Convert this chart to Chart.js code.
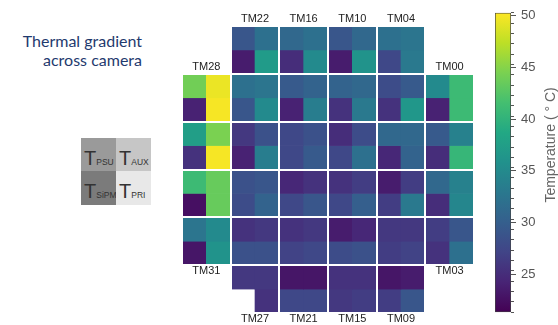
<!DOCTYPE html>
<html>
<head>
<meta charset="utf-8">
<script src="https://cdn.jsdelivr.net/npm/chart.js@4.4.1/dist/chart.umd.min.js"></script>
<style>
  body { margin: 0; width: 558px; height: 325px; overflow: hidden; background: #fff; position: relative; font-family: "Liberation Sans", Arial, sans-serif; }
  #heat { position: absolute; left: 170px; top: 0; }
  #cbar { position: absolute; left: 480px; top: 0; }
  #caption { position: absolute; right: 416px; top: 31px; text-align: right; color: #1f3a6e; font: 16px Lato, "Open Sans", sans-serif; line-height: 19px; }
  #key { position: absolute; left: 81px; top: 138px; width: 70px; height: 67px; display: grid; grid-template-columns: 35px 35px; grid-template-rows: 33px 34px; }
  #key div { color: #333; padding: 10px 0 0 3px; box-sizing: border-box; font-size: 20px; line-height: 20px; white-space: nowrap; }
  #key span { font-size: 8.5px; }
</style>
</head>
<body>
<div id="caption">Thermal gradient<br>across camera</div>
<div id="key">
  <div style="background:#9a9a9a">T<span>PSU</span></div>
  <div style="background:#c6c6c6">T<span>AUX</span></div>
  <div style="background:#7b7b7b">T<span>SiPM</span></div>
  <div style="background:#e8e8e8">T<span>PRI</span></div>
</div>
<canvas id="heat" width="320" height="325"></canvas>
<canvas id="cbar" width="78" height="325"></canvas>
<script>
// module rows top to bottom, module columns left to right (null = no module)
const tPSU = [
  [null, 29, 31, 29, 32, null],
  [44, 32, 29.5, 30.5, 28, 35],
  [37.5, 26, 27.5, 25, 31, 29.5],
  [41, 28.5, 24.5, 25.5, 23.5, 31],
  [32.5, 25.5, 25.5, 23.5, 26, 26.5],
  [null, 26, 23, 25.5, 23, null]
];
const tAUX = [
  [null, 32, 32, 31, 32.5, null],
  [49.5, 32.5, 30.5, 31, 29.5, 41],
  [44.5, 28.5, 28.5, 28, 31, 34],
  [43.5, 29, 25.5, 26.5, 26.5, 34],
  [35, 26, 26, 24.5, 26, 29],
  [null, 26, 23, 25.5, 23.5, null]
];
const tSiPM = [
  [null, 23.5, 25, 23.5, 27.5, null],
  [24, 29, 24, 25.5, 25.5, 24],
  [25.5, 24, 27.5, 27.5, 24.5, 25],
  [22.5, 28, 27.5, 27.5, 26.5, 25],
  [23, 28.5, 27, 28, 26.5, 25.5],
  [null, null, 27.5, 26, 26.5, null]
];
const tPRI = [
  [null, 37, 35, 36, 33, null],
  [50, 35, 33.5, 33, 36.5, 41],
  [50, 33.5, 29.5, 32, 30.5, 40.5],
  [43.5, 30.5, 29, 30, 33, 34.5],
  [36, 28.5, 27.5, 28.5, 27, 32],
  [null, 25.5, 27.5, 26.5, 29, null]
];
const topLabels = ['TM28', 'TM22', 'TM16', 'TM10', 'TM04', 'TM00'];
const bottomLabels = ['TM31', 'TM27', 'TM21', 'TM15', 'TM09', 'TM03'];
const cmin = 21.3, cmax = 50.3;
const cbarTitle = 'Temperature ( \u00B0 C)';

const viridisStops = ['#440154', '#482475', '#414487', '#355f8d', '#2a788e', '#21918c',
  '#22a884', '#44bf70', '#7ad151', '#bddf26', '#fde725'];

function hexRgb(h) {
  return [1, 3, 5].map(i => parseInt(h.substr(i, 2), 16));
}

function viridis(v) {
  let t = (v - cmin) / (cmax - cmin);
  t = Math.max(0, Math.min(1, t)) * 10;
  const i = Math.min(9, Math.floor(t));
  const f = t - i;
  const a = hexRgb(viridisStops[i]), b = hexRgb(viridisStops[i + 1]);
  const c = a.map((x, k) => Math.round(x + (b[k] - x) * f));
  return `rgb(${c[0]},${c[1]},${c[2]})`;
}

// each module is 2x2 cells: PSU AUX / SiPM PRI
const sensors = [[tPSU, tAUX], [tSiPM, tPRI]];
const datasets = [];
for (let r = 0; r < 12; r++) {
  const pts = [];
  const cols = [];
  for (let c = 0; c < 12; c++) {
    const v = sensors[r % 2][c % 2][r >> 1][c >> 1];
    if (v == null) continue;
    pts.push({x: c + 0.5, y: [r, r + 1]});
    cols.push(viridis(v));
  }
  datasets.push({
    data: pts,
    backgroundColor: cols,
    borderWidth: 0,
    grouped: false,
    barPercentage: 1,
    categoryPercentage: 1
  });
}

const tmLabels = {
  id: 'tmLabels',
  afterDraw(chart) {
    const {ctx} = chart;
    const x = chart.scales.x, y = chart.scales.y;
    ctx.save();
    ctx.font = '11px "Liberation Sans", Arial, sans-serif';
    ctx.fillStyle = '#222';
    ctx.textAlign = 'center';
    ctx.textBaseline = 'middle';
    for (let mc = 0; mc < 6; mc++) {
      const rows = [0, 1, 2, 3, 4, 5].filter(m => tPSU[m][mc] != null);
      const cx = x.getPixelForValue(mc * 2 + 1);
      ctx.fillText(topLabels[mc], cx, y.getPixelForValue(rows[0] * 2) - 7);
      ctx.fillText(bottomLabels[mc], cx, y.getPixelForValue(rows[rows.length - 1] * 2 + 2) + 6);
    }
    ctx.restore();
  }
};

const gridOpts = {color: '#fff', lineWidth: 2, z: 1, drawTicks: false, offset: false};

new Chart(document.getElementById('heat'), {
  type: 'bar',
  data: {datasets: datasets},
  options: {
    responsive: false,
    animation: false,
    layout: {padding: {left: 12, right: 16, top: 26, bottom: 12}},
    plugins: {legend: {display: false}, tooltip: {enabled: false}},
    scales: {
      x: {type: 'linear', min: 0, max: 12, offset: false,
          ticks: {display: false, stepSize: 2}, grid: gridOpts, border: {display: false}},
      y: {type: 'linear', min: 0, max: 12, reverse: true,
          ticks: {display: false, stepSize: 2}, grid: gridOpts, border: {display: false}}
    }
  },
  plugins: [tmLabels]
});

const cbarLabel = {
  id: 'cbarLabel',
  afterDraw(chart) {
    const {ctx, chartArea} = chart;
    ctx.save();
    ctx.translate(chartArea.right + 40, chart.scales.y.getPixelForValue(37.5));
    ctx.rotate(-Math.PI / 2);
    ctx.font = '14px "Liberation Sans", Arial, sans-serif';
    ctx.fillStyle = '#666';
    ctx.textAlign = 'center';
    ctx.textBaseline = 'middle';
    ctx.fillText(cbarTitle, 0, 0);
    ctx.restore();
  }
};

new Chart(document.getElementById('cbar'), {
  type: 'bar',
  data: {
    labels: [''],
    datasets: [{
      data: [[cmin, cmax]],
      backgroundColor: (c) => {
        const ca = c.chart.chartArea;
        if (!ca) return '#888';
        const g = c.chart.ctx.createLinearGradient(0, ca.bottom, 0, ca.top);
        viridisStops.forEach((s, i) => g.addColorStop(i / 10, s));
        return g;
      },
      borderColor: '#444',
      borderWidth: 1,
      borderSkipped: false,
      barPercentage: 1,
      categoryPercentage: 1
    }]
  },
  options: {
    responsive: false,
    animation: false,
    layout: {padding: {left: 15, top: 10, right: 0, bottom: 0}},
    plugins: {legend: {display: false}, tooltip: {enabled: false}},
    scales: {
      x: {display: false},
      yMinor: {
        position: 'right', weight: 0, min: cmin, max: cmax,
        afterFit: (s) => { s.width = 0; },
        ticks: {display: false, stepSize: 1, includeBounds: false},
        grid: {drawOnChartArea: false, tickLength: 3, color: '#555'},
        border: {display: false}
      },
      y: {
        position: 'right', weight: 1, min: cmin, max: cmax,
        afterFit: (s) => { s.width = 47; },
        ticks: {stepSize: 5, includeBounds: false, color: '#555', padding: 5,
                font: {size: 13, family: '"Liberation Sans", Arial, sans-serif'}},
        grid: {drawOnChartArea: false, tickLength: 5, color: '#555'},
        border: {display: false}
      }
    }
  },
  plugins: [cbarLabel]
});
</script>
</body>
</html>
